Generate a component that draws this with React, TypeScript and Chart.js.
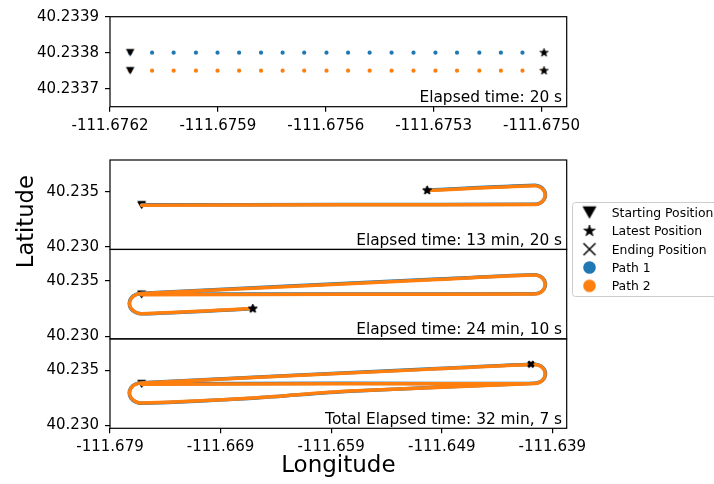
import React, { useEffect, useRef } from 'react';
import { Chart, registerables } from 'chart.js';

Chart.register(...registerables);

const FONT = "'DejaVu Sans', 'Liberation Sans', sans-serif";
const BLUE = '#1f77b4';
const ORANGE = '#ff7f0e';
const W = 714;
const H = 484;

// ---------------- data: top panel (first 20 s) ----------------
const topLon = [
  -111.676144, -111.676083, -111.676023, -111.675961, -111.675901,
  -111.675841, -111.67578, -111.67572, -111.67566, -111.675598,
  -111.675538, -111.675478, -111.675417, -111.675356, -111.675295,
  -111.675235, -111.675173, -111.675113, -111.675053, -111.674993,
];
const topLat1 = [
  40.2338, 40.2338, 40.2338, 40.2338, 40.2338, 40.2338, 40.2338, 40.2338, 40.2338, 40.2338,
  40.2338, 40.2338, 40.2338, 40.2338, 40.2338, 40.2338, 40.2338, 40.2338, 40.2338, 40.2338,
];
const topLat2 = [
  40.23375, 40.23375, 40.23375, 40.23375, 40.23375, 40.23375, 40.23375, 40.23375, 40.23375, 40.23375,
  40.23375, 40.23375, 40.23375, 40.23375, 40.23375, 40.23375, 40.23375, 40.23375, 40.23375, 40.23375,
];
const topXTicks = [-111.6762, -111.6759, -111.6756, -111.6753, -111.675];
const topYTicks = [40.2337, 40.2338, 40.2339];
const topXRange = [-111.6762, -111.67493];
const topYRange = [40.23365, 40.2339];
const topLabel = 'Elapsed time: 20 s';

// ---------------- data: full paths ----------------
const path1Lon = [
  -111.67614, -111.658, -111.6406, -111.64011, -111.63975, -111.63962, -111.63975, -111.64011, -111.6406,
  -111.65031, -111.67611, -111.67669, -111.67711, -111.67726, -111.67711, -111.67669, -111.67611,
  -111.66607, -111.6573, -111.6406, -111.64011, -111.63975, -111.63962, -111.63975, -111.64011, -111.6406,
  -111.64093,
];
const path1Lat = [
  40.2338, 40.23383, 40.23385, 40.23396, 40.23428, 40.23471, 40.23513, 40.23545, 40.23557,
  40.23513, 40.23389, 40.23377, 40.23343, 40.23296, 40.23249, 40.23215, 40.23202,
  40.23248, 40.23312, 40.23384, 40.23395, 40.23427, 40.2347, 40.23513, 40.23545, 40.23557,
  40.23558,
];
const path2Lon = [
  -111.67614, -111.658, -111.6406, -111.64012, -111.63977, -111.63965, -111.63977, -111.64012, -111.6406,
  -111.65033, -111.67611, -111.67667, -111.67708, -111.67723, -111.67708, -111.67667, -111.67611,
  -111.6661, -111.6573, -111.6406, -111.64012, -111.63977, -111.63965, -111.63977, -111.64012, -111.6406,
  -111.64095,
];
const path2Lat = [
  40.23376, 40.2338, 40.23382, 40.23394, 40.23426, 40.23469, 40.2351, 40.23542, 40.23554,
  40.2351, 40.23386, 40.23375, 40.23342, 40.23296, 40.2325, 40.23217, 40.23204,
  40.2325, 40.23313, 40.23382, 40.23393, 40.23426, 40.23468, 40.2351, 40.23542, 40.23554,
  40.23555,
];
const panelEnd = [9, 17, 26];
const panelLabels = [
  'Elapsed time: 13 min, 20 s',
  'Elapsed time: 24 min, 10 s',
  'Total Elapsed time: 32 min, 7 s',
];
const bottomXTicks = [-111.679, -111.669, -111.659, -111.649, -111.639];
const bottomYTicks = [40.23, 40.235];
const bottomXRange = [-111.679, -111.6377];
const bottomYRange = [40.22975, 40.23787];
const legendLabels = ['Starting Position', 'Latest Position', 'Ending Position', 'Path 1', 'Path 2'];
const xTitle = 'Longitude';
const yTitle = 'Latitude';

// ---------------- layout (page pixels) ----------------
const PLOT_L = 110;
const PLOT_R = 566.7;
const TOP_T = 16.7;
const TOP_B = 106.7;
const TOP_AXIS_B = 130;
const BOT_T = 160;
const BOT_B = 428.3;

// ---------------- marker images ----------------
function markerCanvas(dim: number, draw: (ctx: CanvasRenderingContext2D, c: number) => void) {
  const cv = document.createElement('canvas');
  cv.width = dim;
  cv.height = dim;
  const ctx = cv.getContext('2d') as CanvasRenderingContext2D;
  draw(ctx, dim / 2);
  return cv;
}
function triDown(rx: number, ry: number) {
  return markerCanvas(Math.ceil(2 * Math.max(rx, ry)) + 4, (ctx, c) => {
    ctx.fillStyle = '#000';
    ctx.beginPath();
    ctx.moveTo(c - rx, c - ry);
    ctx.lineTo(c + rx, c - ry);
    ctx.lineTo(c, c + ry);
    ctx.closePath();
    ctx.fill();
  });
}
function star(R: number) {
  return markerCanvas(Math.ceil(2 * R) + 4, (ctx, c) => {
    ctx.fillStyle = '#000';
    ctx.strokeStyle = '#000';
    ctx.lineWidth = 0.8;
    ctx.lineJoin = 'miter';
    ctx.beginPath();
    for (let i = 0; i < 10; i++) {
      const a = -Math.PI / 2 + (i * Math.PI) / 5;
      const rr = i % 2 === 0 ? R : R * 0.381966;
      const px = c + rr * Math.cos(a);
      const py = c + rr * Math.sin(a);
      if (i === 0) ctx.moveTo(px, py);
      else ctx.lineTo(px, py);
    }
    ctx.closePath();
    ctx.fill();
    ctx.stroke();
  });
}
function cross(h: number, lw: number) {
  return markerCanvas(Math.ceil(2 * h + lw) + 4, (ctx, c) => {
    ctx.strokeStyle = '#000';
    ctx.lineWidth = lw;
    ctx.lineCap = 'butt';
    ctx.beginPath();
    ctx.moveTo(c - h, c - h);
    ctx.lineTo(c + h, c + h);
    ctx.moveTo(c + h, c - h);
    ctx.lineTo(c - h, c + h);
    ctx.stroke();
  });
}
function dot(r: number, color: string) {
  return markerCanvas(Math.ceil(2 * r) + 4, (ctx, c) => {
    ctx.fillStyle = color;
    ctx.beginPath();
    ctx.arc(c, c, r, 0, Math.PI * 2);
    ctx.fill();
  });
}

const tickFont = { family: FONT, size: 15 };

function makeXScale(ticks: number[], range: number[], digits: number, height: number) {
  return {
    type: 'linear',
    position: 'bottom',
    min: range[0],
    max: range[1],
    afterBuildTicks: (s: any) => {
      s.ticks = ticks.map((v) => ({ value: v }));
    },
    afterFit: (s: any) => {
      s.height = height;
    },
    ticks: {
      font: tickFont,
      color: '#000',
      padding: 5,
      autoSkip: false,
      maxRotation: 0,
      minRotation: 0,
      callback: (v: any) => Number(v).toFixed(digits),
    },
    grid: { drawOnChartArea: false, drawTicks: true, tickLength: 5, color: '#000', lineWidth: 1.2 },
    border: { display: false },
  };
}
function makeYScale(ticks: number[], range: number[], digits: number, extra: any) {
  return {
    type: 'linear',
    position: 'left',
    min: range[0],
    max: range[1],
    afterBuildTicks: (s: any) => {
      s.ticks = ticks.map((v) => ({ value: v }));
    },
    afterFit: (s: any) => {
      s.width = PLOT_L;
    },
    ticks: {
      font: tickFont,
      color: '#000',
      padding: 6,
      autoSkip: false,
      callback: (v: any) => Number(v).toFixed(digits),
    },
    grid: { drawOnChartArea: false, drawTicks: true, tickLength: 5, color: '#000', lineWidth: 1.2 },
    border: { display: false },
    ...extra,
  };
}

function drawAnnotation(ctx: CanvasRenderingContext2D, text: string, left: number, right: number, bottom: number) {
  ctx.save();
  ctx.font = `15.4px ${FONT}`;
  ctx.fillStyle = '#000';
  ctx.textAlign = 'right';
  ctx.textBaseline = 'alphabetic';
  ctx.fillText(text, left + 0.99 * (right - left), bottom - 4.5);
  ctx.restore();
}

export default function App() {
  const topRef = useRef<HTMLCanvasElement | null>(null);
  const botRef = useRef<HTMLCanvasElement | null>(null);

  useEffect(() => {
    Chart.defaults.font.family = FONT;
    const triSmall = triDown(4.3, 3.8);
    const starSmall = star(4.4);
    const xBold = cross(2.7, 2.4);
    const triLegend = triDown(7, 6.2);
    const starLegend = star(6);
    const xLegend = cross(6, 1.5);
    const blueLegend = dot(6.3, BLUE);
    const orangeLegend = dot(6.3, ORANGE);

    // ----- top chart -----
    const topPlugin = {
      id: 'topDecor',
      afterDatasetsDraw(chart: any) {
        const { ctx, chartArea: a } = chart;
        ctx.save();
        ctx.strokeStyle = '#000';
        ctx.lineWidth = 1.2;
        ctx.strokeRect(a.left, a.top, a.right - a.left, a.bottom - a.top);
        ctx.restore();
        drawAnnotation(ctx, topLabel, a.left, a.right, a.bottom);
      },
    };
    const topChart = new Chart(topRef.current as HTMLCanvasElement, {
      type: 'scatter',
      data: {
        datasets: [
          {
            data: topLon.map((x, i) => ({ x, y: topLat1[i] })),
            backgroundColor: BLUE,
            borderWidth: 0,
            pointRadius: 2.1,
            order: 3,
          },
          {
            data: topLon.map((x, i) => ({ x, y: topLat2[i] })),
            backgroundColor: ORANGE,
            borderWidth: 0,
            pointRadius: 2.1,
            order: 2,
          },
          {
            data: [
              { x: topLon[0], y: topLat1[0] },
              { x: topLon[0], y: topLat2[0] },
            ],
            pointStyle: triSmall,
            pointRadius: 4,
            order: 1,
          },
          {
            data: [
              { x: topLon[topLon.length - 1], y: topLat1[topLat1.length - 1] },
              { x: topLon[topLon.length - 1], y: topLat2[topLat2.length - 1] },
            ],
            pointStyle: starSmall,
            pointRadius: 4,
            order: 1,
          },
        ],
      },
      options: {
        animation: false,
        responsive: false,
        maintainAspectRatio: false,
        events: [],
        layout: { padding: { left: 0, right: W - PLOT_R, top: TOP_T, bottom: H - TOP_AXIS_B } },
        plugins: { legend: { display: false }, tooltip: { enabled: false } },
        scales: {
          x: makeXScale(topXTicks, topXRange, 4, TOP_AXIS_B - TOP_B),
          y: makeYScale(topYTicks, topYRange, 4, {}),
        },
      } as any,
      plugins: [topPlugin],
    });

    // ----- bottom chart -----
    const datasets: any[] = [];
    for (let p = 0; p < 3; p++) {
      const yID = 'y' + (p + 1);
      const end = panelEnd[p];
      const seg = (lon: number[], lat: number[]) => lon.slice(0, end + 1).map((x, i) => ({ x, y: lat[i] }));
      datasets.push({
        data: seg(path1Lon, path1Lat),
        yAxisID: yID,
        showLine: true,
        borderColor: BLUE,
        borderWidth: 3.5,
        borderCapStyle: 'round',
        borderJoinStyle: 'round',
        tension: 0.3,
        pointRadius: 0,
        order: 9,
      });
      datasets.push({
        data: seg(path2Lon, path2Lat),
        yAxisID: yID,
        showLine: true,
        borderColor: ORANGE,
        borderWidth: 3.5,
        borderCapStyle: 'round',
        borderJoinStyle: 'round',
        tension: 0.3,
        pointRadius: 0,
        order: 8,
      });
      datasets.push({
        data: [
          { x: path1Lon[0], y: path1Lat[0] },
          { x: path2Lon[0], y: path2Lat[0] },
        ],
        yAxisID: yID,
        pointStyle: triSmall,
        pointRadius: 4,
        order: 10,
      });
      datasets.push({
        data: [
          { x: path1Lon[end], y: path1Lat[end] },
          { x: path2Lon[end], y: path2Lat[end] },
        ],
        yAxisID: yID,
        pointStyle: p === 2 ? xBold : starSmall,
        pointRadius: 4,
        order: 1,
      });
    }

    const botPlugin = {
      id: 'botDecor',
      afterDatasetsDraw(chart: any) {
        const { ctx, chartArea: a } = chart;
        ctx.save();
        ctx.strokeStyle = '#000';
        ctx.lineWidth = 1.2;
        ['y1', 'y2', 'y3'].forEach((id, i) => {
          const s = chart.scales[id];
          ctx.strokeRect(a.left, s.top, a.right - a.left, s.bottom - s.top);
          drawAnnotation(ctx, panelLabels[i], a.left, a.right, s.bottom);
        });
        ctx.restore();

        // axis titles
        ctx.save();
        ctx.fillStyle = '#000';
        ctx.font = `23px ${FONT}`;
        ctx.textAlign = 'center';
        ctx.textBaseline = 'alphabetic';
        ctx.fillText(xTitle, (a.left + a.right) / 2, 471.7);
        ctx.translate(33.3, 221.7);
        ctx.rotate(-Math.PI / 2);
        ctx.font = `22.6px ${FONT}`;
        ctx.fillText(yTitle, 0, 0);
        ctx.restore();

        // legend
        ctx.save();
        const lx = 572.5;
        const ly = 202.5;
        ctx.beginPath();
        (ctx as any).roundRect(lx, ly, 170, 94, 3);
        ctx.fillStyle = 'rgba(255,255,255,0.8)';
        ctx.fill();
        ctx.strokeStyle = '#cccccc';
        ctx.lineWidth = 1;
        ctx.stroke();
        const icons = [triLegend, starLegend, xLegend, blueLegend, orangeLegend];
        ctx.font = `12.4px ${FONT}`;
        ctx.fillStyle = '#000';
        ctx.textAlign = 'left';
        ctx.textBaseline = 'alphabetic';
        legendLabels.forEach((lab, i) => {
          const cy = 212.6 + i * 18.3;
          const ic = icons[i];
          ctx.drawImage(ic, 589.5 - ic.width / 2, cy - ic.height / 2);
          ctx.fillText(lab, 611.7, cy + 4.4);
        });
        ctx.restore();
      },
    };

    const ySc = (i: number) =>
      makeYScale(bottomYTicks, bottomYRange, 3, { stack: 'lat', stackWeight: 1, weight: 4 - i, offset: false });

    const botChart = new Chart(botRef.current as HTMLCanvasElement, {
      type: 'scatter',
      data: { datasets },
      options: {
        animation: false,
        responsive: false,
        maintainAspectRatio: false,
        events: [],
        layout: { padding: { left: 0, right: W - PLOT_R, top: BOT_T, bottom: 0 } },
        plugins: { legend: { display: false }, tooltip: { enabled: false } },
        scales: {
          x: makeXScale(bottomXTicks, bottomXRange, 3, H - BOT_B),
          y1: ySc(1),
          y2: ySc(2),
          y3: ySc(3),
        },
      } as any,
      plugins: [botPlugin],
    });

    return () => {
      topChart.destroy();
      botChart.destroy();
    };
  }, []);

  return (
    <div style={{ position: 'absolute', left: 0, top: 0, width: W, height: H, background: '#fff' }}>
      <canvas ref={topRef} width={W} height={H} style={{ position: 'absolute', left: 0, top: 0 }} />
      <canvas ref={botRef} width={W} height={H} style={{ position: 'absolute', left: 0, top: 0 }} />
    </div>
  );
}
